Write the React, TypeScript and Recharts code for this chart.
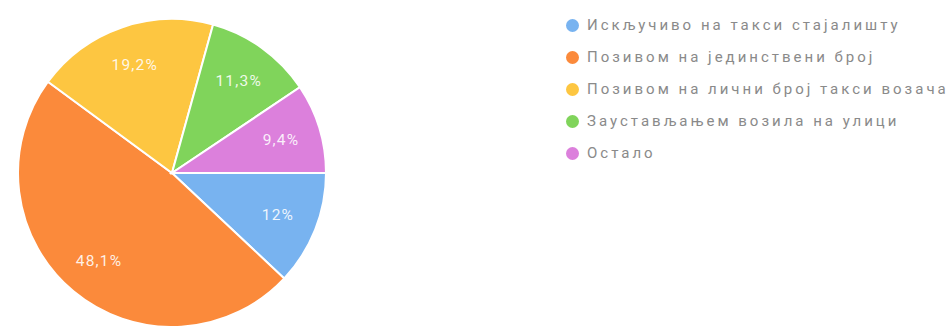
import React from "react";
import { PieChart, Pie, Cell, Legend } from "recharts";

const categories = [
  "Искључиво на такси стајалишту",
  "Позивом на јединствени број",
  "Позивом на лични број такси возача",
  "Заустављањем возила на улици",
  "Остало",
];
const percents = [12, 48.1, 19.2, 11.3, 9.4];
const percentLabels = ["12%", "48,1%", "19,2%", "11,3%", "9,4%"];
const colors = ["#78b3f0", "#fb8a3b", "#fdc641", "#80d45b", "#dc80dc"];

const data = categories.map((name, i) => ({ name, value: percents[i], label: percentLabels[i] }));

const RAD = Math.PI / 180;
const renderLabel = (props: any) => {
  const { cx, cy, midAngle, outerRadius, index } = props;
  const r = outerRadius * 0.74;
  const x = cx + r * Math.cos(-midAngle * RAD);
  const y = cy + r * Math.sin(-midAngle * RAD);
  return (
    <text
      x={x}
      y={y}
      fill="#ffffff"
      fillOpacity={0.88}
      textAnchor="middle"
      dominantBaseline="central"
      fontSize={15.5}
      letterSpacing={1.2}
      fontFamily="Roboto, Arial, sans-serif"
    >
      {percentLabels[index]}
    </text>
  );
};

const renderLegend = () => (
  <div style={{ fontFamily: "Roboto, Arial, sans-serif" }}>
    {categories.map((c, i) => (
      <div key={c} style={{ display: "flex", alignItems: "center", height: 32 }}>
        <span
          style={{
            display: "inline-block",
            width: 13,
            height: 13,
            borderRadius: "50%",
            background: colors[i],
            marginRight: 8,
          }}
        />
        <span style={{ fontSize: 15, color: "#8a8a8a", letterSpacing: 3, whiteSpace: "nowrap" }}>{c}</span>
      </div>
    ))}
  </div>
);

export default function App() {
  return (
    <div style={{ position: "absolute", left: 0, top: 0, background: "#fff" }}>
      <PieChart width={949} height={326} margin={{ top: 0, right: 0, bottom: 0, left: 0 }}>
        <Pie
          data={data}
          dataKey="value"
          nameKey="name"
          cx={172}
          cy={173}
          outerRadius={154}
          startAngle={0}
          endAngle={-360}
          stroke="#ffffff"
          strokeWidth={2}
          label={renderLabel}
          labelLine={false}
          isAnimationActive={false}
        >
          {data.map((d, i) => (
            <Cell key={d.name} fill={colors[i]} />
          ))}
        </Pie>
        <Legend
          layout="vertical"
          align="right"
          verticalAlign="top"
          content={renderLegend}
          wrapperStyle={{ left: 566, top: 9, width: 383 }}
        />
      </PieChart>
    </div>
  );
}
